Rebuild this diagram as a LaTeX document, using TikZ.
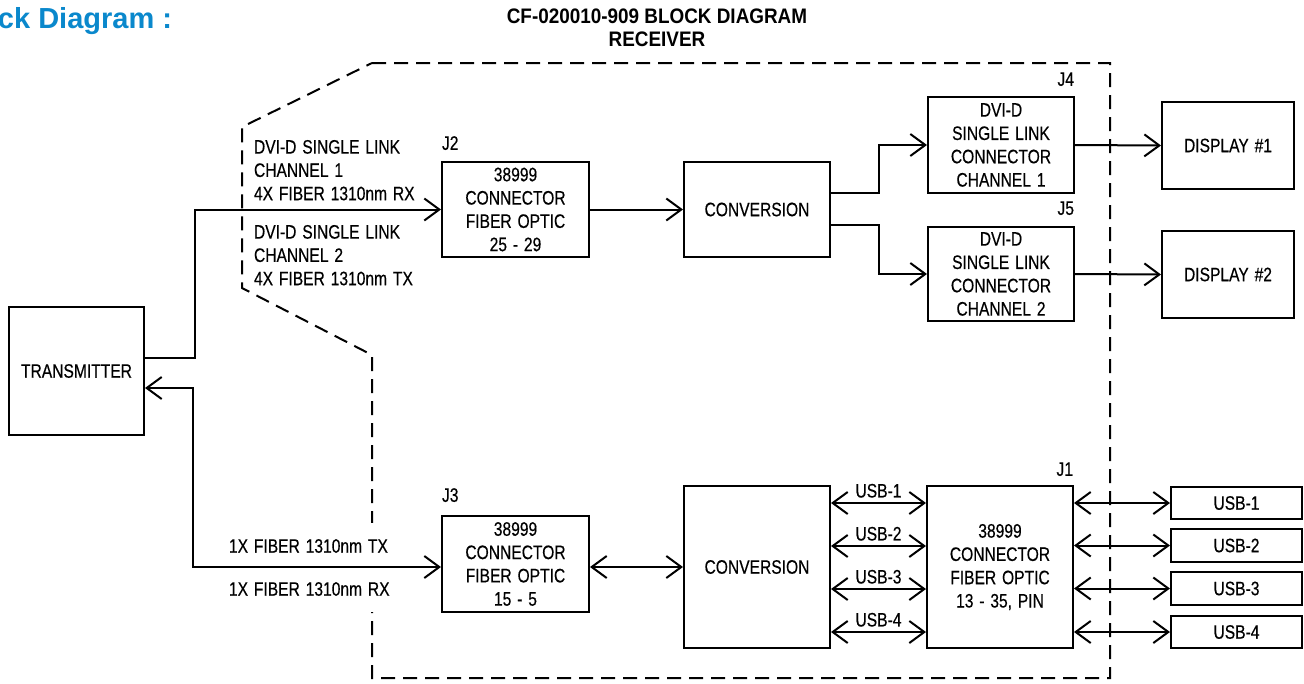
\documentclass[tikz,border=0pt]{standalone}
\usepackage{fontspec}
\setmainfont{Liberation Sans}[FakeStretch=0.8, WordSpace=1.35, FakeBold=0.4]
\newfontfamily\titlefont{Liberation Sans}[FakeStretch=0.9]
\newfontfamily\headfont{Liberation Sans}
\usetikzlibrary{arrows.meta}
\definecolor{headblue}{HTML}{0A88CC}
\begin{document}
\begin{tikzpicture}[x=1pt,y=-1pt,
  font=\fontsize{19.5}{23.3}\selectfont,
  line width=2pt,
  >={Straight Barb[length=15pt,width=22pt]},
  box/.style={draw, inner sep=0pt, align=center, line width=2pt},
  lbl/.style={inner sep=0pt},
  bnd/.style={dash pattern=on 14pt off 8pt, line width=2pt}]
\useasboundingbox (0,0) rectangle (1304,683);

% titles
\node[lbl, anchor=base west, font={\headfont\bfseries\fontsize{29}{30}\selectfont}, text=headblue] (head) at (-3,28) {ck Diagram :};
\node[lbl, anchor=north, align=center, font={\titlefont\bfseries\fontsize{21}{23}\selectfont}] (title) at (657,8) {CF-020010-909 BLOCK DIAGRAM\\RECEIVER};

% boundary
\draw[bnd] (372,63) -- (1110,63) -- (1110,678) -- (372,678) -- (372,355) -- (242,288) -- (242,127) -- cycle;

% boxes
\node[box, minimum width=135pt, minimum height=128pt] (tx) at (76.5,371) {TRANSMITTER};
\node[box, minimum width=147pt, minimum height=95pt] (j2) at (515.5,209.5) {38999\\CONNECTOR\\FIBER OPTIC\\25 - 29};
\node[box, minimum width=146pt, minimum height=95pt] (conv1) at (757,209.5) {CONVERSION};
\node[box, minimum width=146pt, minimum height=96pt] (j4) at (1001,145) {DVI-D\\SINGLE LINK\\CONNECTOR\\CHANNEL 1};
\node[box, minimum width=146pt, minimum height=94pt] (j5) at (1001,274) {DVI-D\\SINGLE LINK\\CONNECTOR\\CHANNEL 2};
\node[box, minimum width=132pt, minimum height=87pt] (d1) at (1228,145.5) {DISPLAY \#1};
\node[box, minimum width=132pt, minimum height=87pt] (d2) at (1228,274.5) {DISPLAY \#2};
\node[box, minimum width=147pt, minimum height=96pt] (j3) at (515.5,564) {38999\\CONNECTOR\\FIBER OPTIC\\15 - 5};
\node[box, minimum width=146pt, minimum height=162pt] (conv2) at (757,567) {CONVERSION};
\node[box, minimum width=146pt, minimum height=162pt] (j1) at (1000,567) {38999\\CONNECTOR\\FIBER OPTIC\\13 - 35, PIN};
\node[box, minimum width=131pt, minimum height=32pt] (u1) at (1236.5,503) {USB-1};
\node[box, minimum width=131pt, minimum height=33pt] (u2) at (1236.5,545.5) {USB-2};
\node[box, minimum width=131pt, minimum height=33pt] (u3) at (1236.5,588.5) {USB-3};
\node[box, minimum width=131pt, minimum height=32pt] (u4) at (1236.5,632) {USB-4};

% connector labels
\node[lbl, anchor=south west] (lj2) at ([yshift=10pt]j2.north west) {J2};
\node[lbl, anchor=south west] (lj3) at ([yshift=12pt]j3.north west) {J3};
\node[lbl, anchor=south east] (lj4) at ([yshift=9pt]j4.north east) {J4};
\node[lbl, anchor=south east] (lj5) at ([yshift=10pt]j5.north east) {J5};
\node[lbl, anchor=south east] (lj1) at ([yshift=8pt]j1.north east) {J1};

% fiber labels
\node[lbl, anchor=north west, align=left] (f1) at (253,139) {DVI-D SINGLE LINK\\CHANNEL 1\\4X FIBER 1310nm RX};
\node[lbl, anchor=north west, align=left] (f2) at (253,224) {DVI-D SINGLE LINK\\CHANNEL 2\\4X FIBER 1310nm TX};
\node[lbl, anchor=west, fill=white, minimum height=46pt, inner xsep=2pt] (f3) at (226,546) {1X FIBER 1310nm TX};
\node[lbl, anchor=west, fill=white, minimum height=46pt, inner xsep=2pt] (f4) at (226,589) {1X FIBER 1310nm RX};

% connectors
\draw[->] ([yshift=13pt]tx.east) -- ++(50,0) |- (j2.west);
\draw[<->] ([yshift=-17pt]tx.east) -- ++(48,0) |- (j3.west |- conv2.west);
\draw[->] (j2.east) -- (conv1.west);
\draw[->] ([yshift=16.5pt]conv1.east) -- ++(48,0) |- (j4.west);
\draw[->] ([yshift=-15.5pt]conv1.east) -- ++(48,0) |- (j5.west);
\draw[->] (j4.east) -- (d1.west);
\draw[->] (j5.east) -- (d2.west);
\draw[<->] (j3.east |- conv2.west) -- (conv2.west);
\draw[<->] ([yshift=64pt]conv2.east) -- ([yshift=64pt]j1.west) node[midway, above=1pt] {USB-1};
\draw[<->] ([yshift=21pt]conv2.east) -- ([yshift=21pt]j1.west) node[midway, above=1pt] {USB-2};
\draw[<->] ([yshift=-22pt]conv2.east) -- ([yshift=-22pt]j1.west) node[midway, above=1pt] {USB-3};
\draw[<->] ([yshift=-65pt]conv2.east) -- ([yshift=-65pt]j1.west) node[midway, above=1pt] {USB-4};
\draw[<->] (j1.east |- u1.west) -- (u1.west);
\draw[<->] (j1.east |- u2.west) -- (u2.west);
\draw[<->] (j1.east |- u3.west) -- (u3.west);
\draw[<->] (j1.east |- u4.west) -- (u4.west);
\end{tikzpicture}
\end{document}
